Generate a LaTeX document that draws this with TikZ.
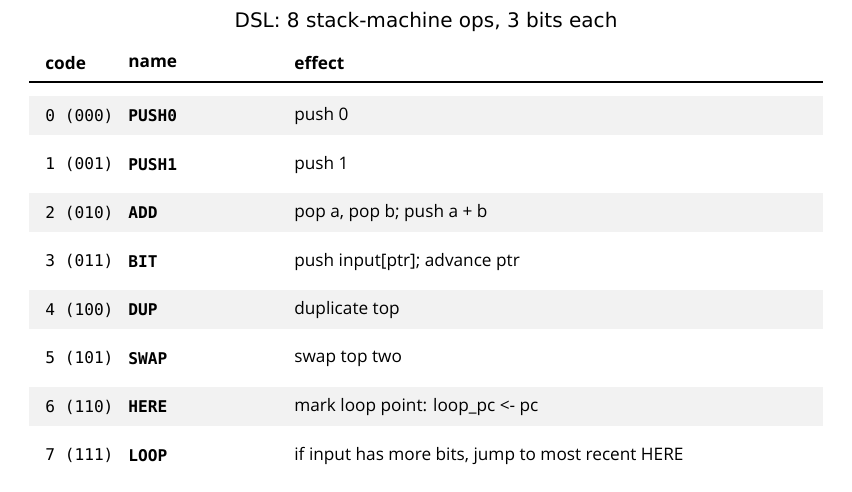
\documentclass[tikz,border=0pt]{standalone}
\usepackage{fontspec}
\setmainfont{Open Sans}
\setmonofont{DejaVu Sans Mono}
\newfontfamily\titlefont{DejaVu Sans}
\usetikzlibrary{positioning}

\tikzset{
  cell/.style={anchor=west, inner sep=0pt, font=\fontsize{9.8}{11}\selectfont},
  codecell/.style={cell, font=\fontsize{9.2}{11}\selectfont\ttfamily},
  namecell/.style={cell, font=\fontsize{9.2}{11}\selectfont\ttfamily\bfseries},
  headcell/.style={cell, font=\fontsize{9.8}{11}\selectfont\bfseries},
  band/.style={fill=black!5}
}

\begin{document}
\begin{tikzpicture}[x=0.02cm, y=-0.02cm]
\useasboundingbox (0,0) rectangle (852,491);

% title and header
\node[font=\titlefont\fontsize{11.4}{13}\selectfont] (title) at (426,22) {DSL: 8 stack-machine ops, 3 bits each};
\node[headcell] (hcode) at (45,63) {code};
\node[headcell] (hname) at (128,63) {name};
\node[headcell] (heffect) at (294,63) {effect};
\coordinate (ruleL) at (29,82);
\coordinate (ruleR) at (823,82);
\draw[line width=0.6pt] (ruleL) -- (ruleR);

% shaded bands
\foreach \k in {0,2,4,6}
    \fill[band] (29,{96+48.5*\k}) rectangle (823,{135+48.5*\k});

% rows
\foreach \i/\b/\n/\e in {0/000/PUSH0/{push 0}, 1/001/PUSH1/{push 1},
    2/010/ADD/{pop a, pop b; push a + b}, 3/011/BIT/{push input[ptr]; advance ptr},
    4/100/DUP/{duplicate top}, 5/101/SWAP/{swap top two},
    6/110/HERE/{mark loop point: loop\_pc <- pc},
    7/111/LOOP/{if input has more bits, jump to most recent HERE}}
{
    \node[codecell] (code\i) at (45,{116+48.5*\i}) {\i{} (\b)};
    \node[namecell] (name\i) at (128,{116+48.5*\i}) {\n};
    \node[cell] (effect\i) at (294,{116.5+48.5*\i}) {\e};
}
\end{tikzpicture}
\end{document}
